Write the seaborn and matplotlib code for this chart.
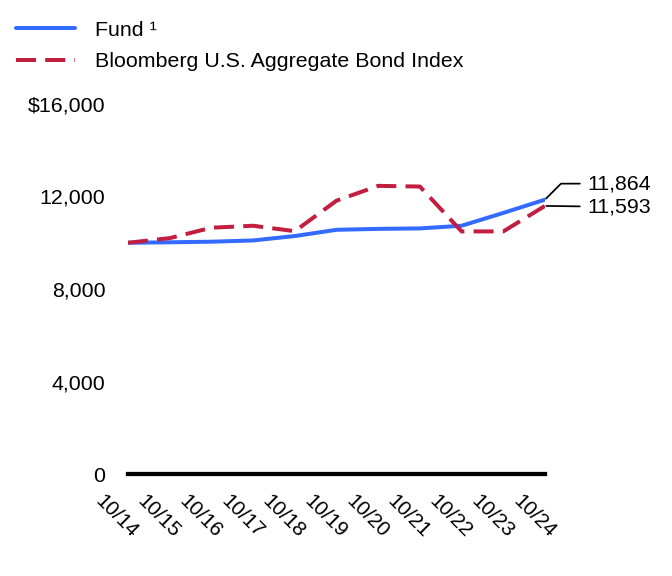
import pandas as pd
import matplotlib
matplotlib.use("Agg")
import matplotlib.pyplot as plt
import matplotlib.transforms as mtransforms
import seaborn as sns

# Growth of a hypothetical $10,000 investment
years = ["10/14", "10/15", "10/16", "10/17", "10/18", "10/19",
         "10/20", "10/21", "10/22", "10/23", "10/24"]
fund = [10000, 10020, 10045, 10100, 10290, 10560, 10600, 10620, 10735, 11290, 11864]
index = [10000, 10200, 10650, 10735, 10500, 11820, 12460, 12430, 10490, 10490, 11593]

series_names = ["Fund \u00b9", "Bloomberg U.S. Aggregate Bond Index"]
end_labels = ["11,864", "11,593"]
y_ticks = [0, 4000, 8000, 12000, 16000]
y_tick_labels = ["0", "4,000", "8,000", "12,000", "$16,000"]

blue = "#336BFF"
red = "#C21E40"

sns.set_style("white")
plt.rcParams["font.family"] = ["Liberation Sans", "DejaVu Sans"]
plt.rcParams["font.size"] = 16
plt.rcParams["text.color"] = "black"
plt.rcParams["xtick.color"] = "black"
plt.rcParams["ytick.color"] = "black"

df = pd.DataFrame({
    "pos": list(range(len(years))) * 2,
    "value": fund + index,
    "series": [series_names[0]] * len(years) + [series_names[1]] * len(years),
})

fig = plt.figure(figsize=(7, 6), dpi=96)
ax = fig.add_axes([128 / 672, 1 - 474 / 576, (545 - 128) / 672, (474 - 104) / 576])

sns.lineplot(data=df[df["series"] == series_names[0]], x="pos", y="value",
             color=blue, linewidth=3, ax=ax, label=series_names[0])
sns.lineplot(data=df[df["series"] == series_names[1]], x="pos", y="value",
             color=red, linewidth=3, dashes=False, ax=ax, label=series_names[1])
ax.lines[1].set_linestyle((0, (5, 2.3)))

ax.set_xlim(0, len(years) - 1)
ax.set_ylim(0, 16000)
ax.set_xlabel("")
ax.set_ylabel("")
for s in ["top", "right", "left"]:
    ax.spines[s].set_visible(False)
ax.spines["bottom"].set_linewidth(3.2)
ax.spines["bottom"].set_color("black")

ax.set_yticks(y_ticks)
ax.set_yticklabels(y_tick_labels, fontsize=16)
ax.set_xticks(range(len(years)))
ax.set_xticklabels(years, rotation=-45, ha="center", va="top", fontsize=15.5)
ax.tick_params(axis="both", length=0)
ax.tick_params(axis="y", pad=17)
ax.tick_params(axis="x", pad=13)
shift = mtransforms.ScaledTranslation(-11 / 96, 0, fig.dpi_scale_trans)
for lbl in ax.get_xticklabels():
    lbl.set_transform(lbl.get_transform() + shift)

# end-of-period value labels with leader lines
last = len(years) - 1
ax.annotate(end_labels[0], xy=(last, fund[-1]), xytext=(42, 16),
            textcoords="offset pixels", ha="left", va="center", fontsize=16,
            arrowprops=dict(arrowstyle="-", color="black", lw=1.3,
                            connectionstyle="angle,angleA=0,angleB=45,rad=0",
                            shrinkA=3, shrinkB=1))
ax.annotate(end_labels[1], xy=(last, index[-1]), xytext=(42, -1),
            textcoords="offset pixels", ha="left", va="center", fontsize=16,
            arrowprops=dict(arrowstyle="-", color="black", lw=1.3,
                            shrinkA=3, shrinkB=1))

handles, labels = ax.get_legend_handles_labels()
ax.legend_.remove()
fig.legend(handles, labels, loc="upper left", bbox_to_anchor=(0.002, 0.990),
           frameon=False, fontsize=16, handlelength=2.75, handletextpad=0.95,
           labelspacing=0.6, borderaxespad=0.3)

fig.savefig("out.png", dpi=96)
